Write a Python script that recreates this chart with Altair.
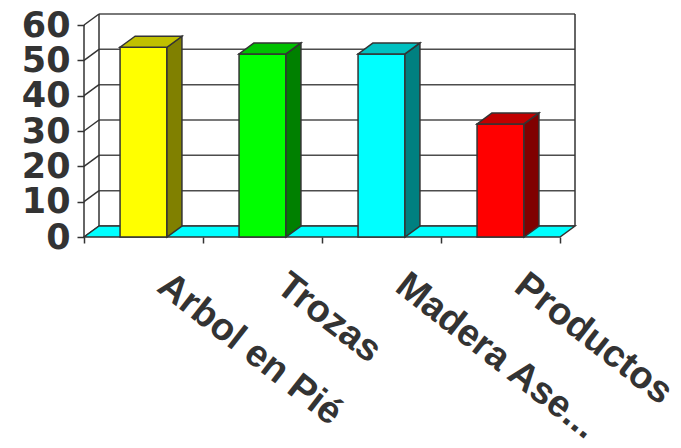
import altair as alt
import pandas as pd

# Chart values
categories = ["Arbol en Pié", "Trozas", "Madera Ase...", "Productos"]
values = [53.7, 51.8, 51.8, 32.0]
front_colors = ["#FFFF00", "#00FF00", "#00FFFF", "#FF0000"]
side_colors = ["#808000", "#008000", "#008080", "#800000"]
top_colors = ["#C0C000", "#00C000", "#00C0C0", "#C00000"]
y_ticks = [0, 10, 20, 30, 40, 50, 60]

# Oblique projection of the depth axis (in data units)
N = len(categories)
DX = 15 / 119            # horizontal shift, in categories
DY = 11 * 60 / 212       # vertical shift, in value units
HALF = 0.197             # half bar width, in categories
X_MAX = N + DX
Y_MAX = 60 + DY

INK = "#333333"
GRID = "#4d4d4d"
FONT = "Liberation Sans"

xs = alt.Scale(domain=[0, X_MAX], nice=False, zero=False)
ys = alt.Scale(domain=[0, Y_MAX], nice=False, zero=False)

# front value axis and category tick marks, shared by every layer
x_axis = alt.Axis(
    values=list(range(N + 1)), labels=False, domain=False, grid=False,
    tickSize=6, tickColor=INK, tickWidth=1.5, title=None, orient="bottom")
y_axis = alt.Axis(
    values=y_ticks, domain=False, grid=False, tickSize=7, tickColor=INK,
    tickWidth=1.5, labelFont="DejaVu Sans", labelFontSize=35,
    labelFontWeight="bold", labelColor=INK, labelPadding=7,
    labelOverlap=False, labelBound=False, title=None, orient="left")


def X(field):
    return alt.X(field, scale=xs, axis=x_axis)


def Y(field):
    return alt.Y(field, scale=ys, axis=y_axis)


# ---- frames ----
front = pd.DataFrame({
    "cat": categories,
    "value": values,
    "x0": [i + 0.5 - HALF for i in range(N)],
    "x1": [i + 0.5 + HALF for i in range(N)],
    "fill": front_colors,
})

side_rows, top_rows = [], []
for i, (c, v) in enumerate(zip(categories, values)):
    x0, x1 = i + 0.5 - HALF, i + 0.5 + HALF
    for t in (0, 1):
        side_rows.append({"cat": c, "x": x1 + t * DX, "lo": t * DY,
                          "hi": v + t * DY, "fill": side_colors[i]})
        top_rows.append({"cat": c, "y": v + t * DY, "xl": x0 + t * DX,
                         "xr": x1 + t * DX, "fill": top_colors[i]})
side = pd.DataFrame(side_rows)
top = pd.DataFrame(top_rows)

grid = pd.DataFrame({"v": y_ticks})
grid["vb"] = grid["v"] + DY
grid["xa"] = DX
grid["xb"] = X_MAX
grid["x0"] = 0.0

walls_v = pd.DataFrame({"x": [DX, X_MAX], "y": [DY, DY], "y2": [Y_MAX, Y_MAX]})
front_axis = pd.DataFrame({"x": [0.0], "y": [0.0], "y2": [60.0]})
floor = pd.DataFrame({"y": [0.0, DY], "xl": [0.0, DX], "xr": [float(N), N + DX]})

labels = pd.DataFrame({
    "cat": categories,
    "x": [i + 0.5 + 12 / 119 for i in range(N)],
    "y": [-15.0] * N,
})

# ---- layers ----
back_grid = alt.Chart(grid).mark_rule(color=GRID, strokeWidth=1.5).encode(
    x=X("xa:Q"), x2="xb:Q", y=Y("vb:Q"),
)
left_wall = alt.Chart(grid).mark_rule(color=INK, strokeWidth=1.5).encode(
    x=X("x0:Q"), x2="xa:Q", y=Y("v:Q"), y2="vb:Q",
)
wall_edges = alt.Chart(walls_v).mark_rule(color=INK, strokeWidth=1.5).encode(
    x=X("x:Q"), y=Y("y:Q"), y2="y2:Q",
)
front_line = alt.Chart(front_axis).mark_rule(color=INK, strokeWidth=1.5).encode(
    x=X("x:Q"), y=Y("y:Q"), y2="y2:Q",
)
floor_layer = alt.Chart(floor).mark_area(
    orient="horizontal", color="#00FFFF", stroke=INK, strokeWidth=1.5
).encode(
    y=Y("y:Q"), x=X("xl:Q"), x2="xr:Q",
)

bar_front = alt.Chart(front).mark_rect(stroke=INK, strokeWidth=1.5).encode(
    x=X("x0:Q"), x2="x1:Q",
    y=Y("value:Q"), y2=alt.datum(0),
    color=alt.Color("fill:N", scale=None),
)
bar_side = alt.Chart(side).mark_area(stroke=INK, strokeWidth=1.5).encode(
    x=X("x:Q"), y=Y("hi:Q"), y2="lo:Q",
    detail="cat:N",
    color=alt.Color("fill:N", scale=None),
)
bar_top = alt.Chart(top).mark_area(
    orient="horizontal", stroke=INK, strokeWidth=1.5
).encode(
    y=Y("y:Q"), x=X("xl:Q"), x2="xr:Q",
    detail="cat:N",
    color=alt.Color("fill:N", scale=None),
)

cat_labels = alt.Chart(labels).mark_text(
    angle=38, align="left", baseline="alphabetic", font=FONT,
    fontSize=38, fontWeight="bold", color=INK,
).encode(
    x=X("x:Q"), y=Y("y:Q"), text="cat:N",
)

chart = alt.layer(
    back_grid, left_wall, wall_edges, front_line, floor_layer,
    bar_front, bar_side, bar_top, cat_labels,
).properties(
    width=491, height=223,
    autosize=alt.AutoSizeParams(type="none"),
    padding={"left": 84, "top": 14, "right": 106, "bottom": 211},
    background="white",
).configure_view(stroke=None)

chart.save("out.html", embed_options={"renderer": "svg", "actions": False})
